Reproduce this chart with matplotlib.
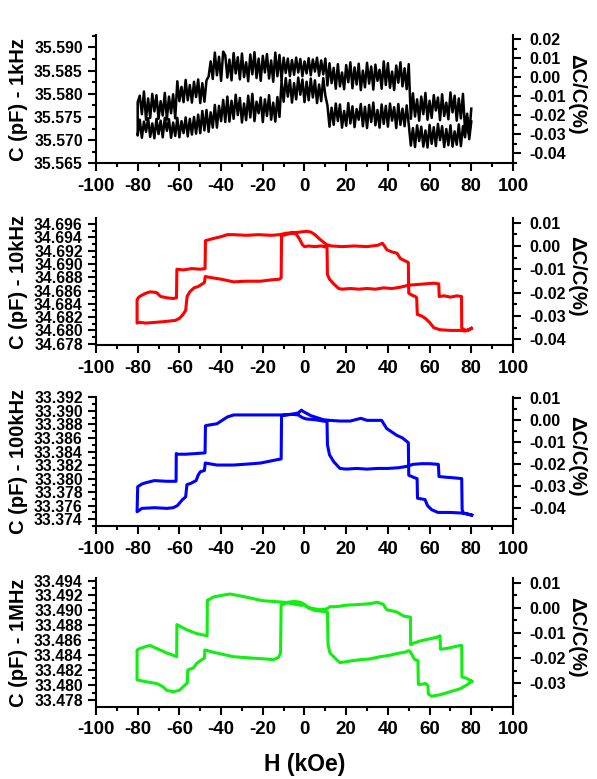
import numpy as np
import matplotlib.pyplot as plt
from matplotlib.ticker import AutoMinorLocator, FuncFormatter

plt.rcParams['font.family'] = ['Liberation Sans', 'DejaVu Sans']
plt.rcParams['font.weight'] = 'bold'
plt.rcParams['axes.unicode_minus'] = False

# ---------------- 1 kHz (noisy loop, 1 kOe steps) ----------------
h_1k_down = np.arange(80, -81, -1)
c_1k_down = [
    35.5768, 35.5712, 35.5757, 35.5721,
    35.5800, 35.5747, 35.5790, 35.5742, 35.5796, 35.5760, 35.5803, 35.5745, 35.5781, 35.5752,
    35.5799, 35.5743, 35.5792, 35.5764, 35.5797, 35.5748, 35.5785, 35.5744, 35.5802, 35.5756,
    35.5794, 35.5742, 35.5788, 35.5751, 35.5801, 35.5746,
    35.5864, 35.5810, 35.5855, 35.5816, 35.5868, 35.5824, 35.5861, 35.5808, 35.5848, 35.5813,
    35.5866, 35.5819, 35.5870, 35.5811, 35.5852, 35.5828, 35.5863, 35.5809, 35.5859, 35.5822,
    35.5867, 35.5814, 35.5850, 35.5808, 35.5865, 35.5820, 35.5857, 35.5812, 35.5868, 35.5825,
    35.5862, 35.5810, 35.5846, 35.5816, 35.5864, 35.5811, 35.5856, 35.5823, 35.5866, 35.5818,
    35.5876, 35.5842, 35.5872, 35.5839, 35.5878, 35.5848, 35.5874, 35.5840, 35.5877, 35.5844,
    35.5870, 35.5838, 35.5875, 35.5846, 35.5878, 35.5841, 35.5873, 35.5838, 35.5876, 35.5845,
    35.5878, 35.5830, 35.5884, 35.5838, 35.5889, 35.5826, 35.5872, 35.5833, 35.5886, 35.5846,
    35.5882, 35.5828, 35.5876, 35.5834, 35.5890, 35.5842, 35.5885, 35.5827, 35.5868, 35.5836,
    35.5887, 35.5831, 35.5879, 35.5844, 35.5888, 35.5829, 35.5874, 35.5835, 35.5883, 35.5891,
    35.5828, 35.5880, 35.5840, 35.5889, 35.5832, 35.5870, 35.5837,
    35.5829, 35.5783, 35.5823, 35.5780, 35.5831, 35.5793, 35.5826, 35.5781, 35.5819, 35.5786,
    35.5830, 35.5782, 35.5815, 35.5784, 35.5827,
    35.5747, 35.5799, 35.5758, 35.5794, 35.5745, 35.5802, 35.5753, 35.5784, 35.5746, 35.5797,
    35.5762, 35.5800, 35.5748, 35.5790, 35.5744, 35.5805, 35.5756, 35.5796, 35.5782,
]
h_1k_up = np.arange(-80, 81, 1)
c_1k_up = [
    35.5710, 35.5744, 35.5705, 35.5740, 35.5718, 35.5747, 35.5707, 35.5736, 35.5704, 35.5746,
    35.5713, 35.5742, 35.5706, 35.5748, 35.5720, 35.5745, 35.5705, 35.5738, 35.5709, 35.5748,
    35.5706, 35.5741, 35.5715, 35.5749, 35.5708, 35.5746, 35.5712, 35.5750, 35.5714,
    35.5755, 35.5715, 35.5763, 35.5721, 35.5765, 35.5718, 35.5760, 35.5727, 35.5776, 35.5727,
    35.5774, 35.5741, 35.5787, 35.5739,
    35.5794, 35.5740, 35.5785, 35.5746, 35.5798, 35.5754, 35.5791, 35.5738, 35.5779, 35.5743,
    35.5796, 35.5749, 35.5800, 35.5741, 35.5783, 35.5758, 35.5792, 35.5739, 35.5788, 35.5752,
    35.5797, 35.5744, 35.5781, 35.5740, 35.5793, 35.5750,
    35.5828, 35.5783, 35.5834, 35.5794, 35.5830, 35.5781, 35.5823, 35.5788, 35.5835, 35.5798,
    35.5831, 35.5782, 35.5826, 35.5786, 35.5833, 35.5792, 35.5829, 35.5780, 35.5820, 35.5784,
    35.5834, 35.5796,
    35.5775, 35.5729, 35.5770, 35.5733, 35.5779, 35.5741, 35.5777, 35.5727, 35.5763, 35.5731,
    35.5780, 35.5736, 35.5773, 35.5728, 35.5767, 35.5744, 35.5778, 35.5730, 35.5772, 35.5726,
    35.5776, 35.5739, 35.5781, 35.5732, 35.5765, 35.5727, 35.5777, 35.5735, 35.5774, 35.5729,
    35.5779, 35.5742, 35.5771, 35.5726, 35.5778, 35.5733, 35.5768, 35.5730, 35.5775,
    35.5734, 35.5688, 35.5726, 35.5685, 35.5732, 35.5698, 35.5729, 35.5686, 35.5721, 35.5684,
    35.5733, 35.5692, 35.5728, 35.5687, 35.5735, 35.5700, 35.5730, 35.5685, 35.5724, 35.5689,
    35.5732, 35.5686, 35.5719, 35.5690, 35.5734, 35.5687, 35.5730, 35.5706, 35.5748, 35.5702,
    35.5740,
]

# ---------------- 10 kHz ----------------
h_10k = [80.0, 78.0, 76.5, 75.4, 75.3, 73.0, 70.0, 67.0, 64.6, 64.4, 62.0, 58.0, 54.0, 50.0,
         46.0, 42.0, 38.0, 34.0, 30.0, 26.0, 22.0, 18.0, 16.4, 14.0, 12.0, 11.0, 10.8, 8.0,
         5.0, 2.0, 0.0, -1.0, -2.5, -4.0,
         -6.0, -9.0, -12.0, -16.0, -22.0, -28.0, -34.0, -37.0, -40.0, -44.0, -47.5, -47.7,
         -50.0, -54.0, -58.0, -61.2, -61.4, -63.0, -66.0, -69.0, -71.0, -74.0, -76.0, -78.0,
         -79.5, -80.3,
         -80.3, -79.0, -76.0, -72.0, -68.0, -65.0, -62.0, -60.0, -58.5, -57.0, -56.3, -55.0,
         -53.0, -51.0, -49.5, -48.0, -47.6, -44.0, -40.0, -34.0, -28.0, -21.0, -16.0, -12.0,
         -11.2, -11.0,
         -8.0, -5.0, -2.0, 1.0, 3.0, 5.0, 7.0, 9.0, 10.5, 13.0, 18.0, 24.0, 30.0, 35.0, 37.4,
         39.6, 42.0, 44.4, 46.0, 49.3, 49.8, 50.0, 51.5, 53.2, 53.8, 54.1, 56.0, 58.0, 60.0,
         62.0, 65.0, 70.0, 75.0, 77.0, 79.0, 80.0]
c_10k = [34.6803, 34.6800, 34.6801, 34.6804, 34.6851, 34.6852, 34.6850, 34.6852, 34.6851,
         34.6870, 34.6871, 34.6870, 34.6869, 34.6868, 34.6865, 34.6863, 34.6864, 34.6862,
         34.6863, 34.6862, 34.6863, 34.6862, 34.6863, 34.6870, 34.6877, 34.6884, 34.6925,
         34.6927, 34.6926, 34.6927, 34.6926, 34.6929, 34.6938, 34.6945,
         34.6947, 34.6946, 34.6944, 34.6943, 34.6944, 34.6943, 34.6944, 34.6944, 34.6941,
         34.6938, 34.6935, 34.6893, 34.6892, 34.6893, 34.6891, 34.6892, 34.6849, 34.6848,
         34.6849, 34.6851, 34.6857, 34.6858, 34.6856, 34.6853, 34.6850, 34.6846,
         34.6811, 34.6812, 34.6811, 34.6812, 34.6813, 34.6814, 34.6815, 34.6818, 34.6823,
         34.6830, 34.6851, 34.6858, 34.6864, 34.6866, 34.6869, 34.6872, 34.6881, 34.6879,
         34.6877, 34.6873, 34.6874, 34.6874, 34.6876, 34.6877, 34.6879, 34.6942,
         34.6945, 34.6947, 34.6948, 34.6949, 34.6948, 34.6944, 34.6938, 34.6933, 34.6929,
         34.6927, 34.6926, 34.6927, 34.6926, 34.6928, 34.6931, 34.6921, 34.6918, 34.6916,
         34.6908, 34.6903, 34.6902, 34.6856, 34.6853, 34.6851, 34.6849, 34.6824, 34.6822,
         34.6818, 34.6812, 34.6804, 34.6801, 34.6800, 34.6800, 34.6799, 34.6801, 34.6803]

# ---------------- 100 kHz ----------------
h_100k = [80.2, 78.0, 76.2, 75.6, 75.4, 72.0, 68.0, 64.5, 64.2, 60.0, 56.0, 52.0, 49.0,
          45.0, 40.0, 35.0, 30.0, 25.0, 20.0, 17.0, 14.0, 12.0, 11.0, 10.8, 9.0, 5.0, 1.0,
          -1.0, -3.0, -6.0, -11.0, -20.0, -30.0, -34.0, -37.0, -42.0, -46.0, -47.5, -47.7,
          -52.0, -57.0, -61.0, -61.5, -61.6, -66.0, -72.0, -76.0, -78.0, -80.0, -80.3,
          -80.3, -78.0, -72.0, -66.0, -63.0, -61.0, -58.5, -57.0, -56.4, -54.5, -52.0, -51.0,
          -50.0, -48.0, -47.6, -42.0, -34.0, -25.0, -21.0, -13.0, -11.2, -11.0, -6.0, -3.0,
          -1.5, 0.0, 3.0, 6.0, 9.0, 12.0, 17.0, 22.0, 27.0, 30.0, 37.0, 39.4, 44.2, 47.0,
          49.0, 49.8, 50.0, 53.0, 54.0, 54.2, 57.8, 59.0, 61.0, 64.0, 70.0, 76.0, 80.2]
c_100k = [33.3746, 33.3748, 33.3749, 33.3754, 33.3800, 33.3801, 33.3802, 33.3803, 33.3821,
          33.3822, 33.3822, 33.3821, 33.3818, 33.3816, 33.3815, 33.3815, 33.3814, 33.3815,
          33.3814, 33.3815, 33.3825, 33.3835, 33.3850, 33.3884, 33.3885, 33.3887, 33.3888,
          33.3890, 33.3894, 33.3895, 33.3894, 33.3894, 33.3894, 33.3894, 33.3891, 33.3881,
          33.3879, 33.3878, 33.3838, 33.3837, 33.3836, 33.3836, 33.3837, 33.3796, 33.3796,
          33.3797, 33.3794, 33.3792, 33.3788, 33.3751,
          33.3751, 33.3756, 33.3757, 33.3756, 33.3757, 33.3760, 33.3769, 33.3773, 33.3791,
          33.3793, 33.3797, 33.3805, 33.3810, 33.3812, 33.3823, 33.3820, 33.3820, 33.3822,
          33.3823, 33.3828, 33.3829, 33.3893, 33.3895, 33.3897, 33.3901, 33.3898, 33.3893,
          33.3890, 33.3887, 33.3886, 33.3885, 33.3885, 33.3889, 33.3886, 33.3886, 33.3874,
          33.3864, 33.3860, 33.3855, 33.3853, 33.3805, 33.3801, 33.3800, 33.3771, 33.3769,
          33.3760, 33.3754, 33.3750, 33.3750, 33.3749, 33.3746]

# ---------------- 1 MHz ----------------
h_1m = [80.2, 77.8, 75.5, 75.4, 74.6, 71.4, 68.2, 65.2, 65.0, 63.4, 58.6, 55.4, 52.2, 50.9,
        50.8, 48.2, 46.6, 44.2, 41.0, 39.4, 37.8, 35.0, 31.4, 26.6, 20.0, 15.4, 12.2, 10.6,
        8.0, 5.0, 2.0, 0.0, -2.0, -6.0, -10.0, -15.0, -20.0, -25.0, -30.0, -35.7, -40.0,
        -43.7, -46.0, -46.6, -46.7, -51.7, -56.5, -61.2, -61.3, -64.0, -66.1, -70.9, -72.5,
        -74.0, -75.7, -78.9, -80.3,
        -80.3, -78.9, -75.0, -70.9, -68.0, -66.1, -62.9, -60.0, -58.9, -57.3, -56.2, -56.0,
        -53.3, -51.7, -49.3, -48.0, -47.8, -43.7, -34.2, -24.5, -19.0, -14.9, -12.5, -11.5,
        -11.2, -8.0, -5.0, -2.0, 0.0, 2.0, 5.0, 8.0, 11.0, 11.3, 12.2, 15.4, 17.0, 21.4,
        26.6, 31.4, 36.2, 41.0, 45.8, 48.2, 49.8, 50.6, 51.5, 52.2, 53.0, 54.4, 54.6, 56.2,
        57.8, 58.6, 59.2, 59.4, 61.0, 65.0, 69.8, 74.6, 77.8, 80.2]
c_1m = [33.4805, 33.4809, 33.4811, 33.4853, 33.4853, 33.4851, 33.4849, 33.4848, 33.4866,
        33.4864, 33.4861, 33.4859, 33.4856, 33.4854, 33.4891, 33.4892, 33.4894, 33.4898,
        33.4900, 33.4901, 33.4908, 33.4911, 33.4909, 33.4908, 33.4907, 33.4905, 33.4905,
        33.4902, 33.4901, 33.4902, 33.4904, 33.4907, 33.4907, 33.4909, 33.4911, 33.4912,
        33.4913, 33.4916, 33.4919, 33.4922, 33.4920, 33.4918, 33.4914, 33.4914, 33.4866,
        33.4869, 33.4874, 33.4881, 33.4838, 33.4841, 33.4843, 33.4849, 33.4851, 33.4853,
        33.4852, 33.4849, 33.4847,
        33.4807, 33.4806, 33.4804, 33.4802, 33.4798, 33.4793, 33.4791, 33.4793, 33.4796,
        33.4800, 33.4803, 33.4820, 33.4823, 33.4829, 33.4834, 33.4836, 33.4847, 33.4844,
        33.4838, 33.4836, 33.4835, 33.4834, 33.4837, 33.4843, 33.4907, 33.4911, 33.4912,
        33.4911, 33.4908, 33.4903, 33.4900, 33.4899, 33.4898, 33.4854, 33.4843, 33.4834,
        33.4830, 33.4832, 33.4834, 33.4835, 33.4838, 33.4840, 33.4843, 33.4844, 33.4846,
        33.4845, 33.4841, 33.4837, 33.4834, 33.4833, 33.4801, 33.4801, 33.4802, 33.4801,
        33.4799, 33.4788, 33.4785, 33.4787, 33.4791, 33.4795, 33.4800, 33.4805]

# axis ticks
x_ticks = [-100, -80, -60, -40, -20, 0, 20, 40, 60, 80, 100]
left_ticks_1k = [35.565, 35.570, 35.575, 35.580, 35.585, 35.590]
left_ticks_10k = [34.678, 34.680, 34.682, 34.684, 34.686, 34.688, 34.690, 34.692, 34.694, 34.696]
left_ticks_100k = [33.374, 33.376, 33.378, 33.380, 33.382, 33.384, 33.386, 33.388, 33.390, 33.392]
left_ticks_1m = [33.478, 33.480, 33.482, 33.484, 33.486, 33.488, 33.490, 33.492, 33.494]
right_ticks_1k = [-0.04, -0.03, -0.02, -0.01, 0.00, 0.01, 0.02]
right_ticks_10k = [-0.04, -0.03, -0.02, -0.01, 0.00, 0.01]
right_ticks_100k = [-0.04, -0.03, -0.02, -0.01, 0.00, 0.01]
right_ticks_1m = [-0.03, -0.02, -0.01, 0.00, 0.01]

panels = [
    dict(h=np.concatenate([h_1k_down, h_1k_up]), c=np.concatenate([c_1k_down, c_1k_up]),
         color='black', lw=1.8, label='C (pF) - 1kHz', ylim=(35.565, 35.5927),
         lticks=left_ticks_1k, rlim=(-0.0453, 0.0223), rticks=right_ticks_1k,
         rect=[0.1608, 0.7904, 0.6985, 0.1647]),
    dict(h=h_10k, c=c_10k, color='#ff0000', lw=2.2, label='C (pF) - 10kHz',
         ylim=(34.6778, 34.6969), lticks=left_ticks_10k,
         rlim=(-0.0424, 0.0120), rticks=right_ticks_10k, rect=[0.1608, 0.5571, 0.6985, 0.1630]),
    dict(h=h_100k, c=c_100k, color='#0000ff', lw=2.2, label='C (pF) - 100kHz',
         ylim=(33.3730, 33.3921), lticks=left_ticks_100k,
         rlim=(-0.0480, 0.0107), rticks=right_ticks_100k, rect=[0.1608, 0.3248, 0.6985, 0.1660]),
    dict(h=h_1m, c=c_1m, color='#11ee11', lw=2.2, label='C (pF) - 1MHz',
         ylim=(33.4771, 33.4943), lticks=left_ticks_1m,
         rlim=(-0.0393, 0.0117), rticks=right_ticks_1m, rect=[0.1608, 0.0928, 0.6985, 0.1648]),
]


def fmt(decimals):
    # round first so that tiny negative zeros do not show as -0.00
    return FuncFormatter(lambda v, pos: f'{round(v, decimals) + 0.0:.{decimals}f}')


def style_ticks(axis_obj, labelsize, pad):
    axis_obj.set_tick_params(which='major', direction='out', length=6, width=1.5,
                             labelsize=labelsize, pad=pad)
    axis_obj.set_tick_params(which='minor', direction='out', length=3, width=1.5)


fig = plt.figure(figsize=(5.97, 7.79), dpi=100)

for p in panels:
    ax = fig.add_axes(p['rect'])
    ax.plot(p['h'], p['c'], color=p['color'], lw=p['lw'], solid_joinstyle='round')
    ax.set_xlim(-100, 100)
    ax.set_ylim(*p['ylim'])
    ax.set_xticks(x_ticks)
    ax.xaxis.set_minor_locator(AutoMinorLocator(2))
    ax.set_yticks(p['lticks'])
    ax.yaxis.set_major_formatter(fmt(3))
    ax.yaxis.set_minor_locator(AutoMinorLocator(2))
    style_ticks(ax.xaxis, 13.5, 4.5)
    style_ticks(ax.yaxis, 11.3, 3.5)
    for side in ['top', 'right']:
        ax.spines[side].set_visible(False)
    for side in ['left', 'bottom']:
        ax.spines[side].set_linewidth(1.5)
    ax.text(-0.185, 0.5, p['label'], transform=ax.transAxes, rotation=90,
            ha='center', va='center', fontsize=14.5, fontweight='bold')

    ax2 = ax.twinx()
    ax2.set_ylim(*p['rlim'])
    ax2.set_yticks(p['rticks'])
    ax2.yaxis.set_major_formatter(fmt(2))
    ax2.yaxis.set_minor_locator(AutoMinorLocator(2))
    style_ticks(ax2.yaxis, 11.5, 5.5)
    for side in ['top', 'left', 'bottom']:
        ax2.spines[side].set_visible(False)
    ax2.spines['right'].set_linewidth(1.5)
    ax2.text(1.1535, 0.54, '\u0394C/C(%)', transform=ax.transAxes, rotation=270,
             ha='center', va='center', fontsize=14.5, fontweight='bold')

fig.text(0.511, 0.019, 'H (kOe)', ha='center', va='center', fontsize=16.5, fontweight='bold')

plt.savefig('out.png', dpi=100)
plt.close(fig)
